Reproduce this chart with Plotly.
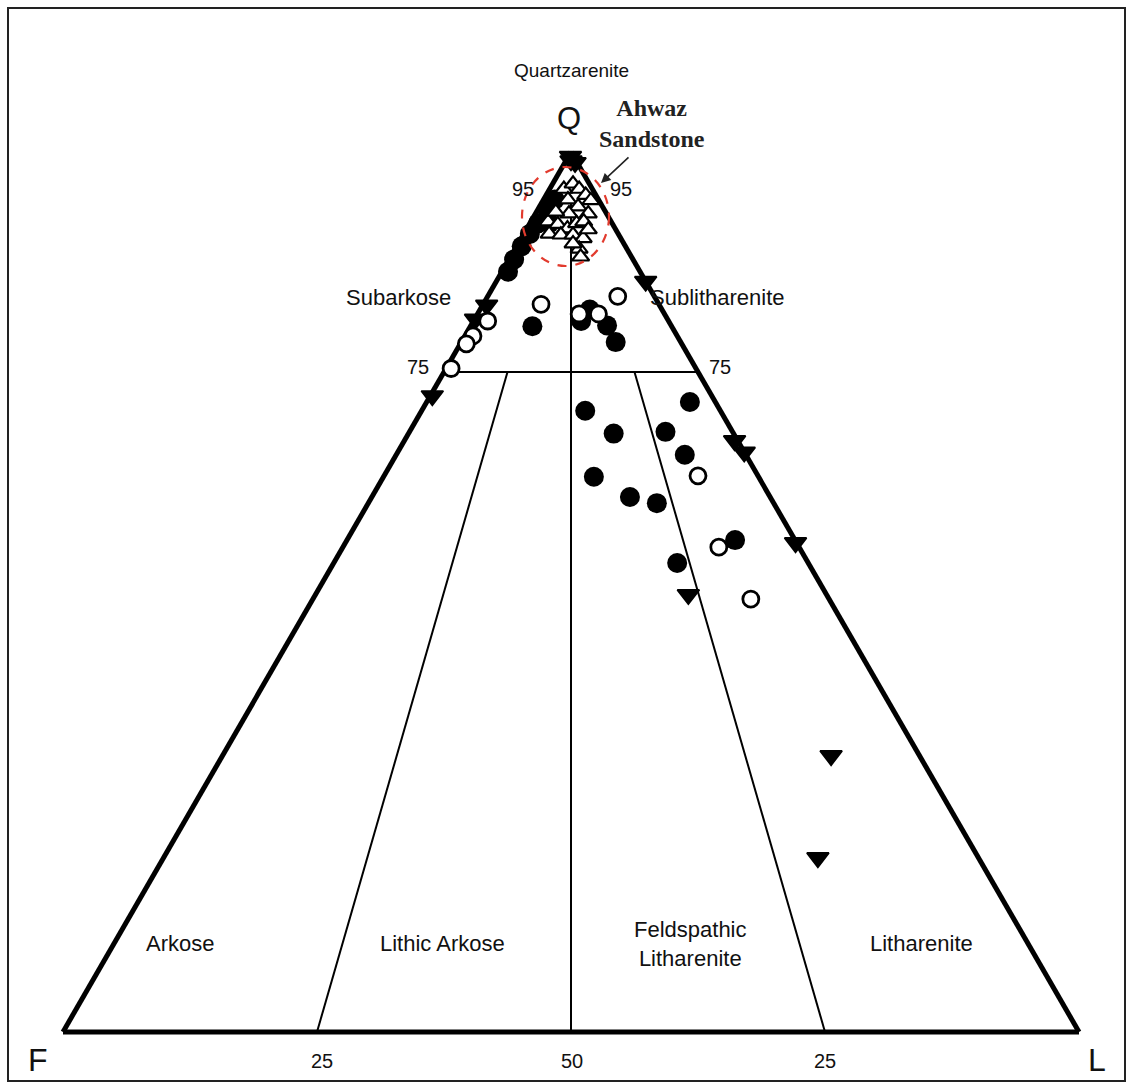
import plotly.graph_objects as go

W, H = 1134, 1090

# ---------------- data (Q, F, L in percent) ----------------
filled_circle_Q = [80.2, 80.8, 82.1, 80.3, 78.4, 70.6, 71.6, 68.0, 68.2, 65.6, 63.1, 60.8, 60.1, 53.3, 55.9,
                   86.4, 87.8, 89.3, 91.9, 93.4, 94.6, 90.7, 91.9]
filled_circle_F = [13.7, 8.6, 7.1, 6.3, 6.4, 13.3, 2.5, 11.8, 6.6, 6.0, 16.2, 13.8, 11.5, 12.9, 5.9,
                   13.0, 11.7, 10.2, 7.3, 5.6, 4.3, 8.7, 6.2]
filled_circle_L = [6.1, 10.6, 10.8, 13.4, 15.2, 16.1, 25.9, 20.2, 25.2, 28.4, 20.7, 25.4, 28.4, 33.8, 38.2,
                   0.6, 0.5, 0.5, 0.8, 1.0, 1.1, 0.6, 1.9]

open_circle_Q = [82.7, 81.6, 81.6, 83.6, 80.8, 79.1, 78.2, 75.4, 63.2, 55.1, 49.2]
open_circle_F = [11.6, 8.4, 6.5, 3.6, 17.8, 20.1, 21.2, 24.1, 5.9, 7.9, 7.7]
open_circle_L = [5.7, 10.0, 11.9, 12.8, 1.4, 0.8, 0.6, 0.5, 30.9, 37.0, 43.1]

down_tri_Q = [99.5, 99.0, 98.8, 85.3, 67.2, 65.9, 55.6, 49.7, 31.4, 19.8, 82.6, 72.3, 81.0]
down_tri_F = [0.3, 0.5, 0.2, 0.0, 0.3, 0.0, 0.1, 13.6, 8.7, 15.8, 17.0, 27.5, 18.9]
down_tri_L = [0.2, 0.5, 1.0, 14.7, 32.5, 34.1, 44.3, 36.7, 59.9, 64.4, 0.4, 0.2, 0.1]

ahwaz_Q = [95.8, 96.4, 95.8, 95.1, 94.5, 94.6, 93.8, 93.0, 93.0, 92.1, 91.8, 91.3, 91.9, 92.1,
           90.7, 90.6, 90.6, 90.2, 89.0, 88.1, 89.6, 91.2, 93.2]
ahwaz_F = [2.8, 1.6, 1.3, 1.0, 0.8, 3.0, 2.4, 1.8, 3.7, 6.2, 5.4, 4.7, 3.5, 2.7,
           6.8, 5.7, 4.5, 3.7, 4.7, 5.0, 5.0, 2.7, 4.9]
ahwaz_L = [1.4, 2.0, 2.9, 3.9, 4.7, 2.4, 3.8, 5.2, 3.3, 1.7, 2.8, 4.0, 4.6, 5.2,
           2.5, 3.7, 4.9, 6.1, 6.3, 6.9, 5.4, 6.1, 1.9]

# classification boundary lines (Q, F, L end points)
boundaries = {
    "q75": ([75, 75], [25, 0], [0, 25]),
    "fl50": ([95, 0], [2.5, 50], [2.5, 50]),
    "fl25_left": ([75, 0], [18.75, 75], [6.25, 25]),
    "fl25_right": ([75, 0], [6.25, 25], [18.75, 75]),
}

fig = go.Figure()

for name, (qa, fb, lc) in boundaries.items():
    fig.add_trace(go.Scatterternary(a=qa, b=fb, c=lc, mode="lines",
                                    line=dict(color="black", width=2), showlegend=False,
                                    hoverinfo="skip"))

fig.add_trace(go.Scatterternary(a=filled_circle_Q, b=filled_circle_F, c=filled_circle_L, mode="markers",
                                marker=dict(symbol="circle", size=20, color="black",
                                            line=dict(color="black", width=0)),
                                cliponaxis=False, showlegend=False))
fig.add_trace(go.Scatterternary(a=down_tri_Q, b=down_tri_F, c=down_tri_L, mode="markers",
                                marker=dict(symbol="triangle-down", size=19, color="black",
                                            line=dict(color="black", width=1.8)),
                                cliponaxis=False, showlegend=False))
fig.add_trace(go.Scatterternary(a=open_circle_Q, b=open_circle_F, c=open_circle_L, mode="markers",
                                marker=dict(symbol="circle", size=16, color="white",
                                            line=dict(color="black", width=2.8)),
                                cliponaxis=False, showlegend=False))
fig.add_trace(go.Scatterternary(a=ahwaz_Q, b=ahwaz_F, c=ahwaz_L, mode="markers",
                                marker=dict(symbol="triangle-up", size=15, color="white",
                                            line=dict(color="black", width=2.2)),
                                cliponaxis=False, showlegend=False))

axis_style = dict(showgrid=False, showticklabels=False, ticks="", linecolor="black",
                  linewidth=5, title=dict(text=""), min=0, layer="below traces")

fig.update_layout(
    width=W, height=H, autosize=False,
    margin=dict(l=0, r=0, t=0, b=0),
    paper_bgcolor="white",
    ternary=dict(
        sum=100,
        bgcolor="white",
        domain=dict(x=[63 / W, 1079 / W], y=[1 - 1032 / H, 1 - 152 / H]),
        aaxis=axis_style, baxis=axis_style, caxis=axis_style,
    ),
    font=dict(family="Liberation Sans, Arial, sans-serif", color="#111"),
)

def px(x, y):
    return x / W, 1 - y / H

labels = [
    ("Quartzarenite", 571, 70, 19),
    ("Q", 569, 118, 31),
    ("95", 523, 189, 20),
    ("95", 621, 189, 20),
    ("Subarkose", 398, 298, 22),
    ("Sublitharenite", 717, 298, 22),
    ("75", 418, 367, 20),
    ("75", 720, 367, 20),
    ("Arkose", 180, 943, 22),
    ("Lithic Arkose", 442, 943, 22),
    ("Feldspathic<br>Litharenite", 690, 944, 22),
    ("Litharenite", 921, 943, 22),
    ("F", 38, 1060, 32),
    ("L", 1097, 1060, 32),
    ("25", 322, 1061, 20),
    ("50", 572, 1061, 20),
    ("25", 825, 1061, 20),
]
annotations = []
for text, x, y, s in labels:
    xx, yy = px(x, y)
    annotations.append(dict(text=text, x=xx, y=yy, xref="paper", yref="paper",
                            showarrow=False, font=dict(size=s), xanchor="center", yanchor="middle"))

hx, hy = px(652, 123)
annotations.append(dict(text="<b>Ahwaz<br>Sandstone</b>", x=hx, y=hy, xref="paper", yref="paper",
                        showarrow=False, xanchor="center", yanchor="middle",
                        font=dict(family="Liberation Serif, Times New Roman, serif", size=24, color="#222")))
ax_, ay_ = px(601, 183)
annotations.append(dict(text="", x=ax_, y=ay_, xref="paper", yref="paper", showarrow=True,
                        ax=29, ay=-27, arrowhead=2, arrowsize=1.2, arrowwidth=1.6, arrowcolor="#222"))
fig.update_layout(annotations=annotations)

shapes = []
x0, y0 = px(8, 8)
x1, y1 = px(1125, 1081)
shapes.append(dict(type="rect", xref="paper", yref="paper", x0=x0, y0=y1, x1=x1, y1=y0,
                   line=dict(color="#222", width=2), layer="below"))
cx0, cy0 = px(522, 167)
cx1, cy1 = px(609, 266)
shapes.append(dict(type="circle", xref="paper", yref="paper", x0=cx0, y0=cy1, x1=cx1, y1=cy0,
                   line=dict(color="#e23b2e", width=2.2, dash="dash"), layer="above"))
fig.update_layout(shapes=shapes)

fig.write_html("out.html", config={"displayModeBar": False},
               post_script="document.body.style.margin='0';")
